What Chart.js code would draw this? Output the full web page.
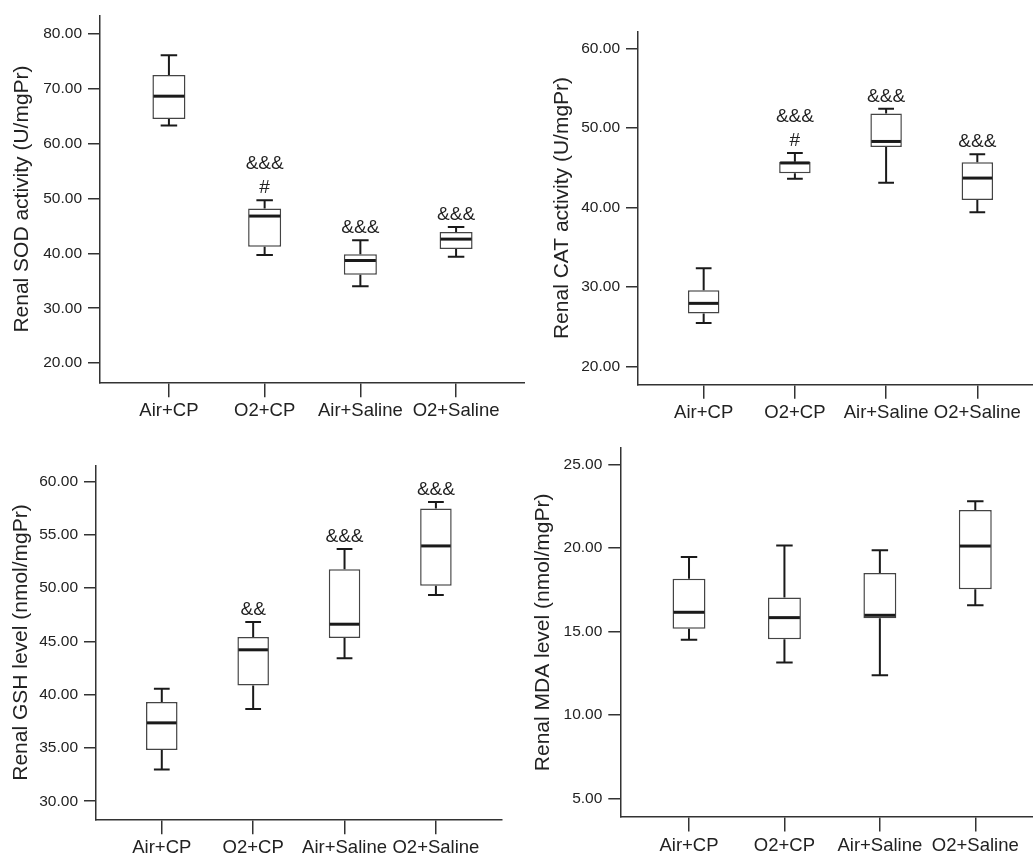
<!DOCTYPE html>
<html>
<head>
<meta charset="utf-8">
<script src="https://cdn.jsdelivr.net/npm/chart.js@4.4.1/dist/chart.umd.min.js"></script>
<style>
  html, body { margin: 0; padding: 0; background: #fff; width: 1033px; height: 857px; overflow: hidden; }
  canvas { position: absolute; }
</style>
</head>
<body>
<canvas id="sod"></canvas>
<canvas id="cat"></canvas>
<canvas id="gsh"></canvas>
<canvas id="mda"></canvas>
<script>
var groups = ['Air+CP', 'O2+CP', 'Air+Saline', 'O2+Saline'];

// each group: [lower whisker, Q1, median, Q3, upper whisker]
var sodBox = [[63.3, 64.5, 68.65, 72.5, 76.1], [39.7, 41.2, 46.8, 48.2, 49.7], [34.0, 36.1, 38.7, 39.85, 42.4], [39.4, 40.8, 42.6, 43.9, 44.8]];
var catBox = [[25.5, 26.7, 27.96, 29.6, 32.36], [43.6, 44.3, 45.6, 45.75, 46.85], [43.1, 47.6, 48.3, 51.8, 52.4], [39.4, 40.95, 43.7, 45.7, 46.7]];
var gshBox = [[32.97, 34.8, 37.35, 39.3, 40.56], [38.65, 40.85, 44.2, 45.4, 46.8], [43.4, 45.3, 46.6, 51.75, 53.66], [49.34, 50.2, 53.94, 57.44, 58.06]];
var mdaBox = [[14.51, 15.17, 16.15, 18.16, 19.46], [13.14, 14.53, 15.83, 17.04, 20.15], [12.38, 15.8, 15.97, 18.5, 19.86], [16.57, 17.52, 20.11, 22.26, 22.79]];

// significance marks above each box (top line first)
var sodSig = [[], ['&&&', '#'], ['&&&'], ['&&&']];
var catSig = [[], ['&&&', '#'], ['&&&'], ['&&&']];
var gshSig = [[], ['&&'], ['&&&'], ['&&&']];
var mdaSig = [[], [], [], []];

var FONT = '"Liberation Sans", Arial, sans-serif';
Chart.defaults.font.family = FONT;

function panel(id, box, sig, title, yMin, yMax, step, pos) {
  var cv = document.getElementById(id);
  cv.width = pos.w;
  cv.height = pos.h;
  cv.style.left = pos.x + 'px';
  cv.style.top = pos.y + 'px';

  var whiskers = {
    id: 'whiskers',
    afterDatasetsDraw: function(chart) {
      var c = chart.ctx, ys = chart.scales.y;
      chart.getDatasetMeta(0).data.forEach(function(bar, i) {
        var b = box[i], x = bar.x, w = bar.width;
        var lo = ys.getPixelForValue(b[0]), q1 = ys.getPixelForValue(b[1]);
        var med = ys.getPixelForValue(b[2]), q3 = ys.getPixelForValue(b[3]);
        var hi = ys.getPixelForValue(b[4]);
        c.save();
        c.strokeStyle = '#1a1a1a';
        c.lineWidth = 2;
        c.beginPath();
        c.moveTo(x, q3); c.lineTo(x, hi);
        c.moveTo(x - w / 4, hi); c.lineTo(x + w / 4, hi);
        c.moveTo(x, q1); c.lineTo(x, lo);
        c.moveTo(x - w / 4, lo); c.lineTo(x + w / 4, lo);
        c.stroke();
        c.lineWidth = 3;
        c.beginPath();
        c.moveTo(x - w / 2 + 1, med); c.lineTo(x + w / 2 - 1, med);
        c.stroke();
        var lines = sig[i];
        c.fillStyle = '#222';
        c.font = '19px ' + FONT;
        c.textAlign = 'center';
        c.textBaseline = 'middle';
        lines.forEach(function(t, k) {
          c.fillText(t, x, hi - 12 - 24 * (lines.length - 1 - k));
        });
        c.restore();
      });
    }
  };

  new Chart(cv, {
    type: 'bar',
    data: {
      datasets: [{
        data: box.map(function(b, i) { return { x: i, y: [b[1], b[3]] }; }),
        backgroundColor: '#fff',
        borderColor: '#444',
        borderWidth: 1.5,
        borderSkipped: false,
        barPercentage: 0.345,
        categoryPercentage: 1
      }]
    },
    options: {
      responsive: false,
      animation: false,
      layout: { padding: { top: pos.padTop, right: pos.padRight, left: 0, bottom: 0 } },
      plugins: { legend: { display: false }, tooltip: { enabled: false } },
      scales: {
        x: {
          type: 'linear',
          min: -0.72,
          max: 3.72,
          offset: false,
          afterFit: function(s) { s.height = pos.xH; },
          ticks: {
            stepSize: 1, includeBounds: false, autoSkip: false, maxRotation: 0,
            padding: 3, color: '#222', font: { size: 18.5 },
            callback: function(v) { return groups[v]; }
          },
          grid: { offset: false, drawOnChartArea: false, tickLength: 14.5, color: '#333', lineWidth: 1.5 },
          border: { color: '#333', width: 1.5 }
        },
        y: {
          min: yMin,
          max: yMax,
          afterFit: function(s) { s.width = pos.yW; },
          ticks: {
            stepSize: step, includeBounds: false, padding: 6, color: '#222',
            font: { size: 15.5 },
            callback: function(v) { return v.toFixed(2); }
          },
          grid: { drawOnChartArea: false, tickLength: 12, color: '#333', lineWidth: 1.5 },
          border: { color: '#333', width: 1.5 },
          title: {
            display: true, text: title, color: '#222', font: { size: 21 },
            padding: { top: pos.tPad, bottom: 0 }
          }
        }
      }
    },
    plugins: [whiskers]
  });
}

panel('sod', sodBox, sodSig, 'Renal SOD activity (U/mgPr)', 16.43, 83.39, 10,
  { x: 0, y: 0, w: 525, h: 430, yW: 100, padTop: 13, padRight: 0, xH: 47.3, tPad: 10 });
panel('cat', catBox, catSig, 'Renal CAT activity (U/mgPr)', 17.79, 62.09, 10,
  { x: 538, y: 0, w: 505, h: 430, yW: 100, padTop: 31.7, padRight: 0, xH: 45.7, tPad: 12 });
panel('gsh', gshBox, gshSig, 'Renal GSH level (nmol/mgPr)', 28.27, 61.5, 5,
  { x: 0, y: 430, w: 510, h: 427, yW: 96, padTop: 35.3, padRight: 8.3, xH: 37.3, tPad: 8.5 });
panel('mda', mdaBox, mdaSig, 'Renal MDA level (nmol/mgPr)', 3.91, 25.99, 5,
  { x: 520, y: 430, w: 524, h: 427, yW: 100.3, padTop: 17.7, padRight: 0, xH: 40, tPad: 10.4 });
</script>
</body>
</html>
